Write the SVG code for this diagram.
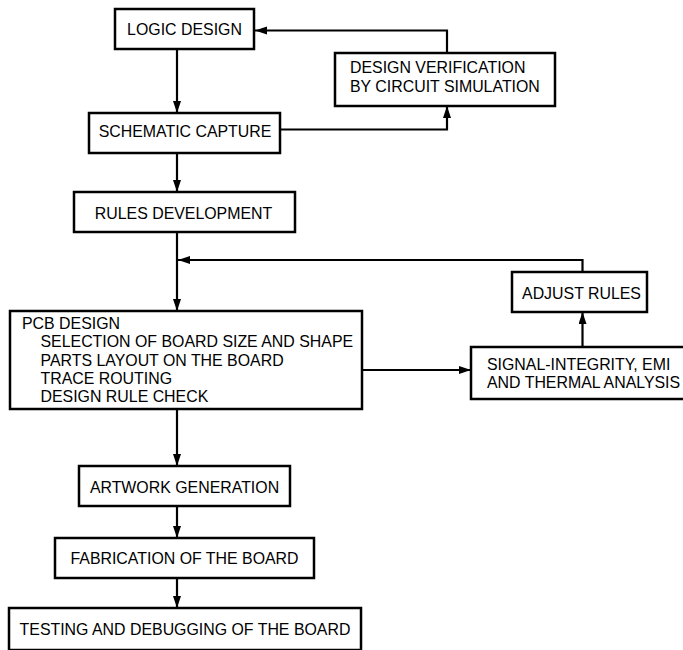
<svg xmlns="http://www.w3.org/2000/svg" width="683" height="650" viewBox="0 0 683 650">
  <style>
    .box { fill: #ffffff; stroke: #000000; stroke-width: 2.5; }
    .lbl { font-family: "Liberation Sans", Arial, sans-serif; font-size: 15.9px; fill: #000000; }
    .mid { text-anchor: middle; }
    .wire { fill: none; stroke: #000000; stroke-width: 2.2; }
  </style>
  <defs>
    <marker id="arrow" markerUnits="userSpaceOnUse" markerWidth="13" markerHeight="9" refX="12" refY="4" orient="auto">
      <path d="M0,0 L12,4 L0,8 z" fill="#000000"/>
    </marker>
  </defs>
  <rect width="683" height="650" fill="#ffffff"/>

  <g id="connectors">
    <path class="wire" d="M177,49 V113" marker-end="url(#arrow)"/>
    <path class="wire" d="M280,129.5 H447 V106" marker-end="url(#arrow)"/>
    <path class="wire" d="M447,53 V30.5 H255" marker-end="url(#arrow)"/>
    <path class="wire" d="M177,153 V192" marker-end="url(#arrow)"/>
    <path class="wire" d="M177,232 V311" marker-end="url(#arrow)"/>
    <path class="wire" d="M582.5,272 V260 H178" marker-end="url(#arrow)"/>
    <path class="wire" d="M582.5,347 V312" marker-end="url(#arrow)"/>
    <path class="wire" d="M362,370 H471" marker-end="url(#arrow)"/>
    <path class="wire" d="M177,409 V466" marker-end="url(#arrow)"/>
    <path class="wire" d="M177,506 V538" marker-end="url(#arrow)"/>
    <path class="wire" d="M177,578 V608" marker-end="url(#arrow)"/>
  </g>

  <g id="logic-design">
    <rect class="box" x="115" y="9" width="139" height="40"/>
    <text class="lbl mid" x="184.5" y="34.5">LOGIC DESIGN</text>
  </g>

  <g id="design-verification">
    <rect class="box" x="335" y="53" width="220" height="53"/>
    <text class="lbl" x="350" y="73">DESIGN VERIFICATION</text>
    <text class="lbl" x="350" y="92">BY CIRCUIT SIMULATION</text>
  </g>

  <g id="schematic-capture">
    <rect class="box" x="89" y="113" width="191" height="40"/>
    <text class="lbl mid" x="185" y="137">SCHEMATIC CAPTURE</text>
  </g>

  <g id="rules-development">
    <rect class="box" x="74" y="192" width="221" height="40"/>
    <text class="lbl mid" x="183.5" y="219">RULES DEVELOPMENT</text>
  </g>

  <g id="pcb-design">
    <rect class="box" x="10" y="311" width="352" height="98"/>
    <text class="lbl" x="22" y="329">PCB DESIGN</text>
    <text class="lbl" x="40.5" y="347.3">SELECTION OF BOARD SIZE AND SHAPE</text>
    <text class="lbl" x="40.5" y="365.7">PARTS LAYOUT ON THE BOARD</text>
    <text class="lbl" x="40.5" y="384">TRACE ROUTING</text>
    <text class="lbl" x="40.5" y="402.3">DESIGN RULE CHECK</text>
  </g>

  <g id="adjust-rules">
    <rect class="box" x="512" y="272" width="135" height="40"/>
    <text class="lbl mid" x="581.5" y="299">ADJUST RULES</text>
  </g>

  <g id="signal-integrity">
    <rect class="box" x="471" y="347" width="230" height="52"/>
    <text class="lbl" x="487" y="370">SIGNAL-INTEGRITY, EMI</text>
    <text class="lbl" x="487" y="387.5">AND THERMAL ANALYSIS</text>
  </g>

  <g id="artwork-generation">
    <rect class="box" x="79" y="466" width="211" height="40"/>
    <text class="lbl mid" x="184.5" y="493">ARTWORK GENERATION</text>
  </g>

  <g id="fabrication">
    <rect class="box" x="55" y="538" width="259" height="40"/>
    <text class="lbl mid" x="184.5" y="563.5">FABRICATION OF THE BOARD</text>
  </g>

  <g id="testing">
    <rect class="box" x="9" y="608" width="352" height="42"/>
    <text class="lbl mid" x="185" y="635">TESTING AND DEBUGGING OF THE BOARD</text>
  </g>
</svg>
